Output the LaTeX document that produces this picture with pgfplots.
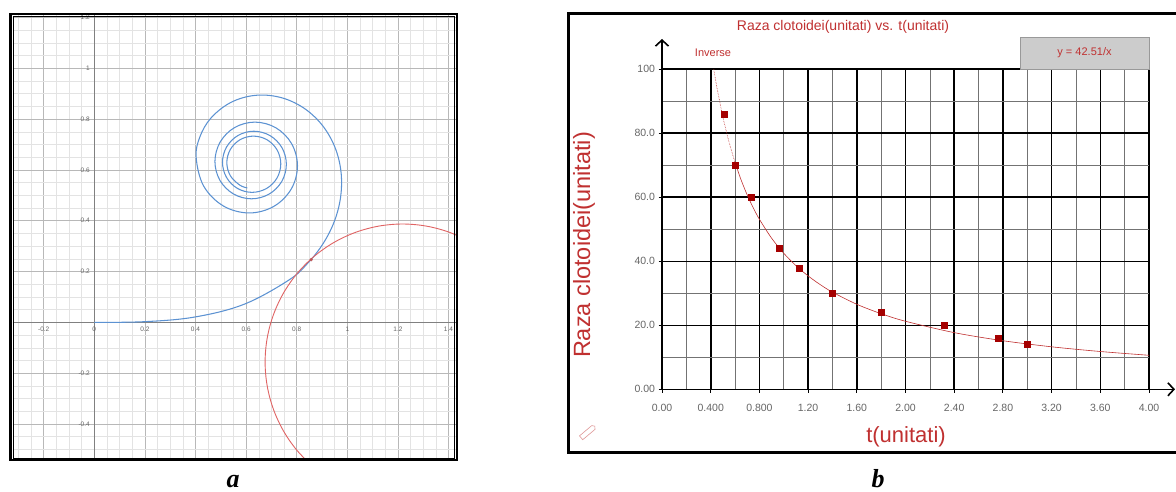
\documentclass[border=0pt]{standalone}
\usepackage{fontspec}
\setmainfont{Liberation Sans}
\newfontfamily\capfont{Liberation Serif}
\usepackage{pgfplots}
\pgfplotsset{compat=1.18}
\usetikzlibrary{arrows.meta}
\definecolor{spiral}{RGB}{92,146,210}
\definecolor{circ}{RGB}{224,100,100}
\definecolor{dred}{RGB}{192,48,48}
\definecolor{mred}{RGB}{165,0,0}
\begin{document}
\begin{tikzpicture}
\useasboundingbox (0,0) rectangle (1176pt,491pt);
\fill[white] (0,0) rectangle (1176pt,491pt);
% ---------------- panel a ----------------
\begin{axis}[
  at={(12.7pt,33pt)}, anchor=south west, scale only axis,
  width=443.3pt, height=442.7pt,
  xmin=-0.3225, xmax=1.4296, ymin=-0.534, ymax=1.2087,
  axis lines=middle, axis line style={-, draw=black!50, line width=0.9pt},
  hide obscured x ticks=false, hide obscured y ticks=false,
  xtick={-0.4,-0.2,0,0.2,0.4,0.6,0.8,1,1.2,1.4,1.6},
  xticklabels={,-0.2,0,0.2,0.4,0.6,0.8,1,1.2,1.4,},
  ytick={-0.6,-0.4,-0.2,0,0.2,0.4,0.6,0.8,1,1.2,1.4},
  yticklabels={,-0.4,-0.2,,0.2,0.4,0.6,0.8,1,1.2,},
  minor x tick num=3, minor y tick num=3,
  grid=both,
  major grid style={black!28, line width=0.7pt},
  minor grid style={black!11, line width=0.5pt},
  major tick length=0pt, minor tick length=0pt,
  tick label style={font=\fontsize{6.5}{7}\selectfont, text=black!60},
  xticklabel style={anchor=north, yshift=-1pt},
  yticklabel style={anchor=east, xshift=-1pt},
]
\addplot[spiral, line width=1.05pt, smooth, tension=0.6] coordinates {
(0,0) (0.2000,0.0027) (0.3990,0.0213) (0.5923,0.0713) (0.7678,0.1657)
(0.8427,0.2318) (0.9045,0.3103) (0.9495,0.3994) (0.9739,0.4961) (0.9747,0.5959)
(0.9498,0.6924) (0.8992,0.7782) (0.8255,0.8453) (0.7346,0.8857) (0.6354,0.8935)
(0.5399,0.8658) (0.4615,0.8048) (0.4170,0.7293) (0.4026,0.6490) (0.4321,0.5368)
(0.5098,0.4583) (0.6115,0.4306) (0.7094,0.4564) (0.7785,0.5250) (0.8031,0.6156)
(0.7798,0.7035) (0.7177,0.7659) (0.6351,0.7882) (0.5547,0.7669) (0.4974,0.7097)
(0.4768,0.6334) (0.4966,0.5589) (0.5499,0.5055) (0.6211,0.4863) (0.6909,0.5049)
(0.7411,0.5549) (0.7591,0.6220) (0.7416,0.6879) (0.6942,0.7353) (0.6306,0.7524)
(0.5681,0.7357) (0.5230,0.6907) (0.5067,0.6301) (0.5226,0.5704) (0.5656,0.5273)
(0.6236,0.5117) (0.6808,0.5270) (0.7222,0.5683) (0.7371,0.6240) (0.7224,0.6789)
(0.6827,0.7187) (0.6291,0.7331) (0.5761,0.7189) (0.5377,0.6806) (0.5238,0.6288)
(0.5375,0.5776) (0.5746,0.5405) (0.6049,0.5291)};
\addplot[circ, line width=0.9pt, smooth, tension=0.57] coordinates {
(0.8692,-0.5724) (0.8022,-0.5054) (0.7479,-0.4279) (0.7079,-0.3420) (0.6834,-0.2505)
(0.6751,-0.1562) (0.6834,-0.0619) (0.7079,0.0296) (0.7479,0.1155) (0.8022,0.1930)
(0.8692,0.2600) (0.9468,0.3143) (1.0326,0.3543) (1.1241,0.3788) (1.2184,0.3871)
(1.3127,0.3788) (1.4042,0.3543) (1.4901,0.3143)};
\addplot[only marks, mark=*, mark size=1.4pt, color=circ!85!black] coordinates {(0.8571,0.2467)};
\end{axis}
\draw[line width=2.6pt] (10.5pt,31pt) rectangle (456.8pt,477pt);
\draw[line width=0.6pt] (12.9pt,33.2pt) rectangle (454.4pt,474.8pt);
\node[font=\capfont\bfseries\itshape\fontsize{26}{28}\selectfont, anchor=base] at (233pt,4pt) {a};
% ---------------- panel b ----------------
\begin{axis}[
  at={(662pt,101.7pt)}, anchor=south west, scale only axis,
  width=487pt, height=320pt,
  xmin=0, xmax=4, ymin=0, ymax=100,
  axis lines=left, axis line style={-, draw=black, line width=1.6pt},
  xtick={0,0.4,0.8,1.2,1.6,2,2.4,2.8,3.2,3.6,4},
  xticklabels={0.00,0.400,0.800,1.20,1.60,2.00,2.40,2.80,3.20,3.60,4.00},
  ytick={0,20,40,60,80,100},
  yticklabels={0.00,20.0,40.0,60.0,80.0,100},
  minor x tick num=1, minor y tick num=1,
  grid=both,
  major grid style={black, line width=1.6pt},
  minor grid style={black!55, line width=0.7pt},
  tick style={black, line width=1pt}, major tick length=7pt, minor tick length=0pt,
  tick align=center,
  tick label style={font=\fontsize{10.5}{12}\selectfont, text=black!60},
  xticklabel style={yshift=-8pt},
]
\addplot[dred, line width=0.6pt, densely dotted] coordinates {
(0.4251,100) (0.45,94.47) (0.5,85.02) (0.55,77.29) (0.6,70.85)};
\addplot[dred, line width=0.6pt, smooth] coordinates {
(0.6,70.85) (0.65,65.40) (0.7,60.73) (0.75,56.68) (0.8,53.14) (0.9,47.23)
(1.0,42.51) (1.1,38.65) (1.2,35.43) (1.3,32.70) (1.4,30.36) (1.6,26.57)
(1.8,23.62) (2.0,21.26) (2.4,17.71) (2.8,15.18) (3.2,13.28) (3.6,11.81) (4.0,10.63)};
\addplot[only marks, mark=square*, mark size=3pt, color=mred] coordinates {
(0.51,86) (0.60,70) (0.73,60) (0.96,44) (1.13,38) (1.40,30) (1.80,24)
(2.32,20) (2.76,16) (3.00,14)};
\end{axis}
\draw[line width=1.6pt, -{Straight Barb[length=6pt,width=13pt]}] (662pt,101.7pt) -- (662pt,452pt);
\draw[line width=1.6pt, -{Straight Barb[length=6pt,width=13pt]}] (662pt,101.7pt) -- (1175pt,101.7pt);
\draw[line width=3pt] (568.5pt,39pt) rectangle (1190pt,477pt);
\node[text=dred, font=\fontsize{14}{16}\selectfont] at (843pt,464.3pt) {Raza clotoidei(unitati) vs. t(unitati)};
\node[text=dred, font=\fontsize{11}{12}\selectfont] at (713pt,438pt) {Inverse};
\draw[fill=black!20, draw=black!40, line width=0.8pt] (1020pt,422pt) rectangle (1149pt,454pt);
\node[text=dred, font=\fontsize{11}{12}\selectfont] at (1084.5pt,438pt) {y = 42.51/x};
\node[text=dred, font=\fontsize{23.5}{26}\selectfont, rotate=90] at (584pt,246pt) {Raza clotoidei(unitati)};
\node[text=dred, font=\fontsize{22}{24}\selectfont] at (906pt,54pt) {t(unitati)};
\draw[dred!50, line width=0.6pt, rotate around={40:(588pt,59pt)}] (579pt,56.5pt) -- (595pt,56.5pt) -- (597pt,59pt) -- (595pt,61.5pt) -- (579pt,61.5pt) -- cycle;
\node[font=\capfont\bfseries\itshape\fontsize{26}{28}\selectfont, anchor=base] at (878pt,4pt) {b};
\end{tikzpicture}
\end{document}
